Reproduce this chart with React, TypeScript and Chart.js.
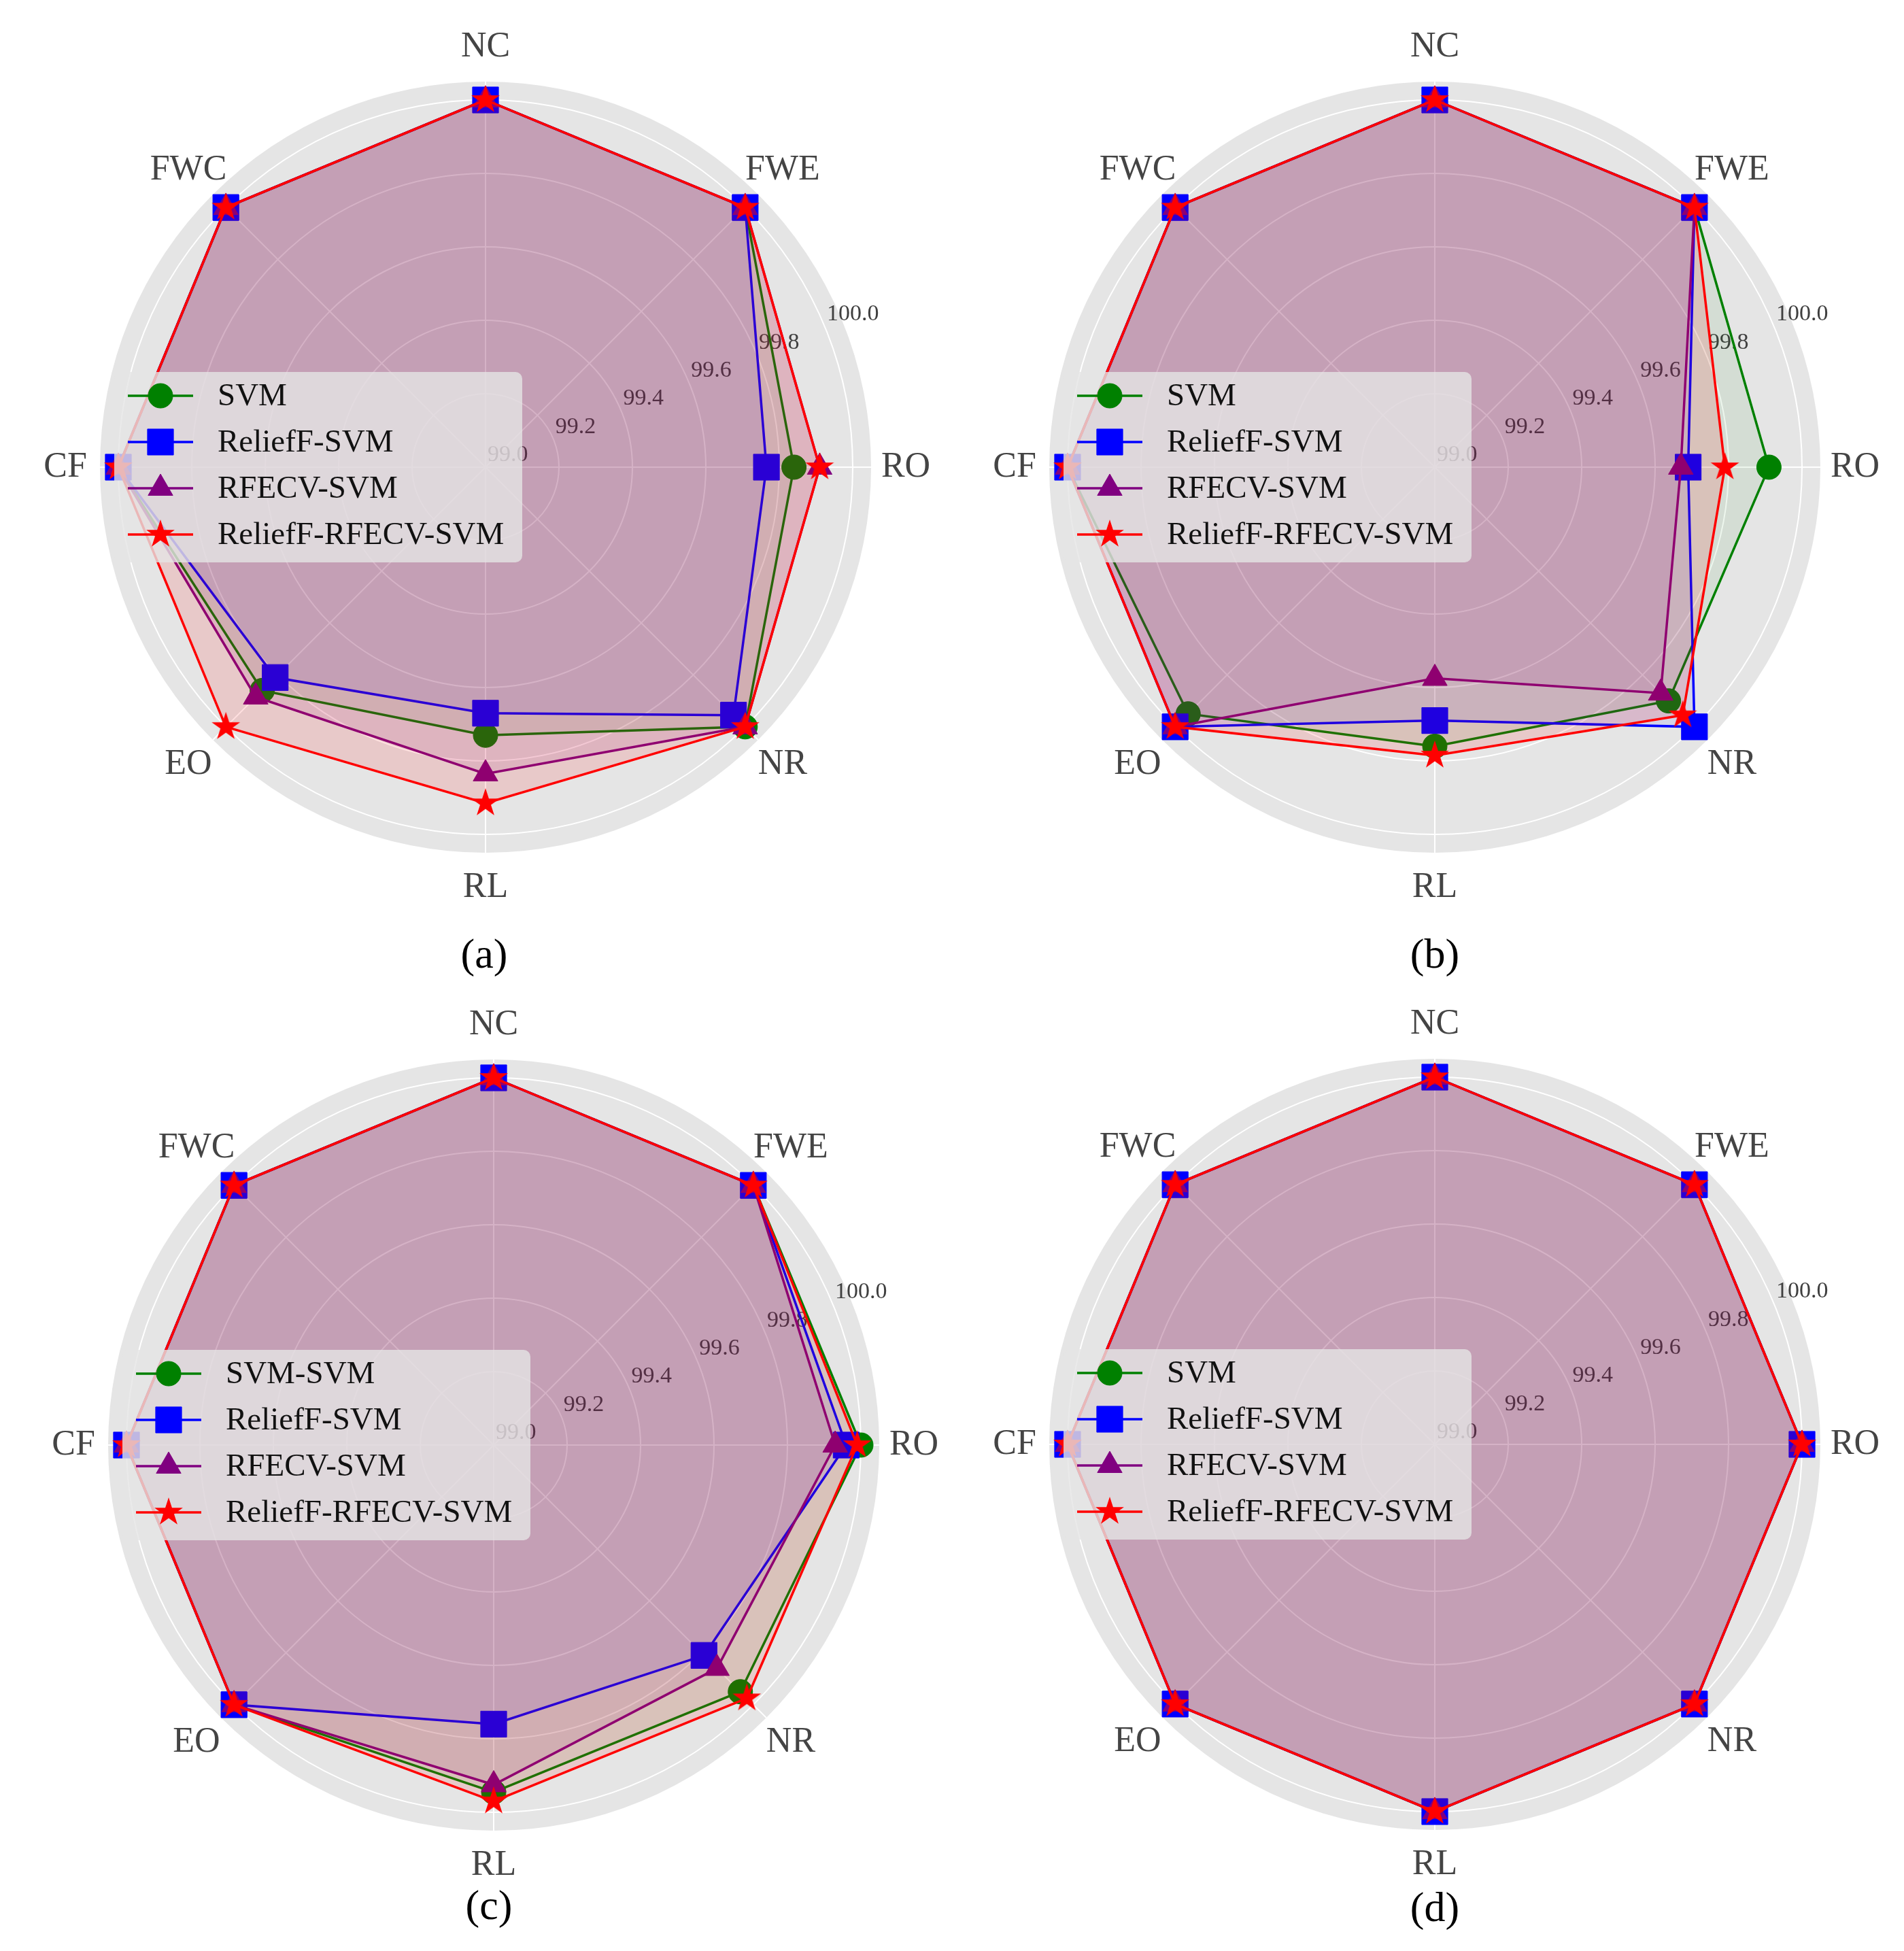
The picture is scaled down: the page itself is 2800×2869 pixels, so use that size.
import React, { useEffect, useRef } from 'react';
import { Chart, registerables } from 'chart.js';

Chart.register(...registerables);

// ---------------- data ----------------
const CATEGORIES = ['NC', 'FWE', 'RO', 'NR', 'RL', 'EO', 'CF', 'FWC'];
const TICK_VALUES = [99.0, 99.2, 99.4, 99.6, 99.8, 100.0];
const SCALE_MIN = 99.0;
const SCALE_MAX = 100.05;

const NAMES_ABD = ['SVM', 'ReliefF-SVM', 'RFECV-SVM', 'ReliefF-RFECV-SVM'];
const NAMES_C = ['SVM-SVM', 'ReliefF-SVM', 'RFECV-SVM', 'ReliefF-RFECV-SVM'];

// panel (a)
const A_SVM = [100, 100, 99.84, 100, 99.73, 99.86, 100, 100];
const A_RELIEFF = [100, 100, 99.765, 99.955, 99.67, 99.81, 100, 100];
const A_RFECV = [100, 100, 99.91, 100, 99.835, 99.885, 100, 100];
const A_RRS = [100, 100, 99.91, 100, 99.915, 100, 100, 100];

// panel (b)
const B_SVM = [100, 100, 99.91, 99.9, 99.76, 99.95, 100, 100];
const B_RELIEFF = [100, 100, 99.69, 100, 99.69, 100, 100, 100];
const B_RFECV = [100, 100, 99.67, 99.87, 99.575, 100, 100, 100];
const B_RRS = [100, 100, 99.79, 99.955, 99.785, 100, 100, 100];

// panel (c)
const C_SVM = [100, 100, 100, 99.95, 99.945, 100, 100, 100];
const C_RELIEFF = [100, 100, 99.96, 99.81, 99.76, 100, 100, 100];
const C_RFECV = [100, 100, 99.93, 99.86, 99.925, 100, 100, 100];
const C_RRS = [100, 100, 99.99, 99.975, 99.97, 100, 100, 100];

// panel (d)
const D_SVM = [100, 100, 100, 100, 100, 100, 100, 100];
const D_RELIEFF = [100, 100, 100, 100, 100, 100, 100, 100];
const D_RFECV = [100, 100, 100, 100, 100, 100, 100, 100];
const D_RRS = [100, 100, 100, 100, 100, 100, 100, 100];

const CAPTIONS = ['(a)', '(b)', '(c)', '(d)'];

// ---------------- styles / layout ----------------
const SERIES_STYLES = [
  { color: '#008000', fill: 'rgba(0,128,0,0.07)', shape: 'circle', radius: 18 },
  { color: '#0000FF', fill: 'rgba(0,0,255,0.08)', shape: 'rect', radius: 27 },
  { color: '#800080', fill: 'rgba(128,0,128,0.10)', shape: 'triangle', radius: 21 },
  { color: '#FF0000', fill: 'rgba(255,0,0,0.12)', shape: 'star', radius: 22 },
];

const CANVAS_SIZE = 1360;
const PAD = 113; // chart area 1134 -> drawing radius 567
const HALF = CANVAS_SIZE / 2;
const STAR_SIZE = 46;
const LINE_W = 3.5;
const SERIF = '"Liberation Serif", "Times New Roman", serif';

const PANELS = [
  { names: NAMES_ABD, series: [A_SVM, A_RELIEFF, A_RFECV, A_RRS], cx: 714, cy: 687, capX: 712, capY: 1402 },
  { names: NAMES_ABD, series: [B_SVM, B_RELIEFF, B_RFECV, B_RRS], cx: 2110, cy: 687, capX: 2110, capY: 1402 },
  { names: NAMES_C, series: [C_SVM, C_RELIEFF, C_RFECV, C_RRS], cx: 726, cy: 2125, capX: 719, capY: 2801 },
  { names: NAMES_ABD, series: [D_SVM, D_RELIEFF, D_RFECV, D_RRS], cx: 2110, cy: 2124, capX: 2110, capY: 2804 },
];

function makeStar(size: number, color: string): HTMLCanvasElement {
  const c = document.createElement('canvas');
  c.width = size;
  c.height = size;
  const ctx = c.getContext('2d')!;
  const R = size / 2 - 1;
  const r = R * 0.381966;
  ctx.beginPath();
  for (let i = 0; i < 10; i++) {
    const rad = i % 2 === 0 ? R : r;
    const a = -Math.PI / 2 + (i * Math.PI) / 5;
    const x = size / 2 + rad * Math.cos(a);
    const y = size / 2 + rad * Math.sin(a);
    if (i === 0) ctx.moveTo(x, y);
    else ctx.lineTo(x, y);
  }
  ctx.closePath();
  ctx.fillStyle = color;
  ctx.fill();
  return c;
}

function drawMarker(ctx: CanvasRenderingContext2D, shape: string, x: number, y: number, r: number, color: string, star: HTMLCanvasElement) {
  ctx.save();
  ctx.fillStyle = color;
  ctx.strokeStyle = color;
  ctx.lineWidth = 1;
  ctx.beginPath();
  if (shape === 'circle') {
    ctx.arc(x, y, r, 0, Math.PI * 2);
    ctx.fill();
    ctx.stroke();
  } else if (shape === 'rect') {
    const s = Math.SQRT1_2 * r;
    ctx.rect(x - s, y - s, 2 * s, 2 * s);
    ctx.fill();
    ctx.stroke();
  } else if (shape === 'triangle') {
    for (let k = 0; k < 3; k++) {
      const a = -Math.PI / 2 + (k * 2 * Math.PI) / 3;
      const px = x + r * Math.cos(a);
      const py = y + r * Math.sin(a);
      if (k === 0) ctx.moveTo(px, py);
      else ctx.lineTo(px, py);
    }
    ctx.closePath();
    ctx.fill();
    ctx.stroke();
  } else {
    ctx.drawImage(star, x - star.width / 2, y - star.height / 2);
  }
  ctx.restore();
}

function roundRect(ctx: CanvasRenderingContext2D, x: number, y: number, w: number, h: number, r: number) {
  ctx.beginPath();
  ctx.moveTo(x + r, y);
  ctx.lineTo(x + w - r, y);
  ctx.arcTo(x + w, y, x + w, y + r, r);
  ctx.lineTo(x + w, y + h - r);
  ctx.arcTo(x + w, y + h, x + w - r, y + h, r);
  ctx.lineTo(x + r, y + h);
  ctx.arcTo(x, y + h, x, y + h - r, r);
  ctx.lineTo(x, y + r);
  ctx.arcTo(x, y, x + r, y, r);
  ctx.closePath();
}

function makeDecorPlugin(names: string[], star: HTMLCanvasElement) {
  return {
    id: 'radarDecor',
    beforeDraw(chart: any) {
      const s = chart.scales.r;
      const ctx = chart.ctx as CanvasRenderingContext2D;
      ctx.save();
      ctx.beginPath();
      ctx.arc(s.xCenter, s.yCenter, s.getDistanceFromCenterForValue(s.max), 0, Math.PI * 2);
      ctx.fillStyle = '#E5E5E5';
      ctx.fill();
      ctx.restore();
    },
    beforeDatasetsDraw(chart: any) {
      const s = chart.scales.r;
      const ctx = chart.ctx as CanvasRenderingContext2D;
      const ang = (22.5 * Math.PI) / 180;
      ctx.save();
      ctx.font = `34px ${SERIF}`;
      ctx.fillStyle = '#3F3F3F';
      ctx.textAlign = 'left';
      ctx.textBaseline = 'middle';
      TICK_VALUES.forEach((v) => {
        const d = s.getDistanceFromCenterForValue(v);
        const x = s.xCenter + d * Math.cos(ang);
        const y = s.yCenter - d * Math.sin(ang);
        ctx.fillText(v.toFixed(1), x + 3, y - 18);
      });
      ctx.restore();
    },
    afterDraw(chart: any) {
      const s = chart.scales.r;
      const ctx = chart.ctx as CanvasRenderingContext2D;
      const cx = s.xCenter;
      const cy = s.yCenter;
      // category labels
      ctx.save();
      ctx.font = `52px ${SERIF}`;
      ctx.fillStyle = '#444444';
      ctx.textAlign = 'center';
      ctx.textBaseline = 'middle';
      CATEGORIES.forEach((lab, i) => {
        const p = s.getPointPosition(i, 618);
        ctx.fillText(lab, p.x, p.y);
      });
      ctx.restore();
      // legend
      ctx.save();
      roundRect(ctx, cx - 546, cy - 140, 600, 280, 10);
      ctx.fillStyle = 'rgba(229,229,229,0.8)';
      ctx.fill();
      const rows = [-105, -37, 31, 99];
      ctx.font = `47px ${SERIF}`;
      ctx.textAlign = 'left';
      ctx.textBaseline = 'middle';
      names.forEach((name, i) => {
        const st = SERIES_STYLES[i];
        const y = cy + rows[i];
        ctx.strokeStyle = st.color;
        ctx.lineWidth = LINE_W;
        ctx.beginPath();
        ctx.moveTo(cx - 526, y);
        ctx.lineTo(cx - 430, y);
        ctx.stroke();
        drawMarker(ctx, st.shape, cx - 478, y, st.radius, st.color, star);
        ctx.fillStyle = '#111111';
        ctx.fillText(name, cx - 394, y + 2);
      });
      ctx.restore();
    },
  };
}

function RadarPanel({ panel }: { panel: (typeof PANELS)[number] }) {
  const ref = useRef<HTMLCanvasElement>(null);
  useEffect(() => {
    const canvas = ref.current!;
    const star = makeStar(STAR_SIZE, '#FF0000');
    const datasets = panel.series.map((vals, i) => {
      const st = SERIES_STYLES[i];
      return {
        label: panel.names[i],
        data: vals,
        borderColor: st.color,
        backgroundColor: st.fill,
        borderWidth: LINE_W,
        fill: 'start',
        tension: 0,
        pointStyle: st.shape === 'star' ? star : st.shape,
        pointRadius: st.radius,
        pointBackgroundColor: st.color,
        pointBorderColor: st.color,
        pointBorderWidth: 1,
        order: 4 - i,
      };
    });
    const chart = new Chart(canvas, {
      type: 'radar',
      data: { labels: CATEGORIES, datasets: datasets as any },
      options: {
        responsive: false,
        animation: false,
        events: [],
        layout: { padding: PAD },
        plugins: { legend: { display: false }, tooltip: { enabled: false } },
        scales: {
          r: {
            min: SCALE_MIN,
            max: SCALE_MAX,
            beginAtZero: false,
            ticks: { display: false },
            afterBuildTicks: (sc: any) => {
              sc.ticks = TICK_VALUES.map((v) => ({ value: v }));
            },
            grid: { circular: true, color: '#FFFFFF', lineWidth: 2 },
            angleLines: { display: true, color: '#FFFFFF', lineWidth: 2 },
            pointLabels: { display: false },
          } as any,
        },
      },
      plugins: [makeDecorPlugin(panel.names, star) as any],
    });
    return () => chart.destroy();
  }, [panel]);
  return (
    <canvas
      ref={ref}
      width={CANVAS_SIZE}
      height={CANVAS_SIZE}
      style={{ position: 'absolute', left: panel.cx - HALF, top: panel.cy - HALF, width: CANVAS_SIZE, height: CANVAS_SIZE }}
    />
  );
}

export default function App() {
  return (
    <div style={{ position: 'absolute', left: 0, top: 0, width: 2800, height: 2869, background: '#FFFFFF', overflow: 'hidden' }}>
      {PANELS.map((p, i) => (
        <RadarPanel key={i} panel={p} />
      ))}
      {PANELS.map((p, i) => (
        <div
          key={'cap' + i}
          style={{
            position: 'absolute',
            left: p.capX,
            top: p.capY,
            transform: 'translate(-50%, -50%)',
            fontFamily: SERIF,
            fontSize: 62,
            lineHeight: 1,
            color: '#000000',
            whiteSpace: 'nowrap',
          }}
        >
          {CAPTIONS[i]}
        </div>
      ))}
    </div>
  );
}
